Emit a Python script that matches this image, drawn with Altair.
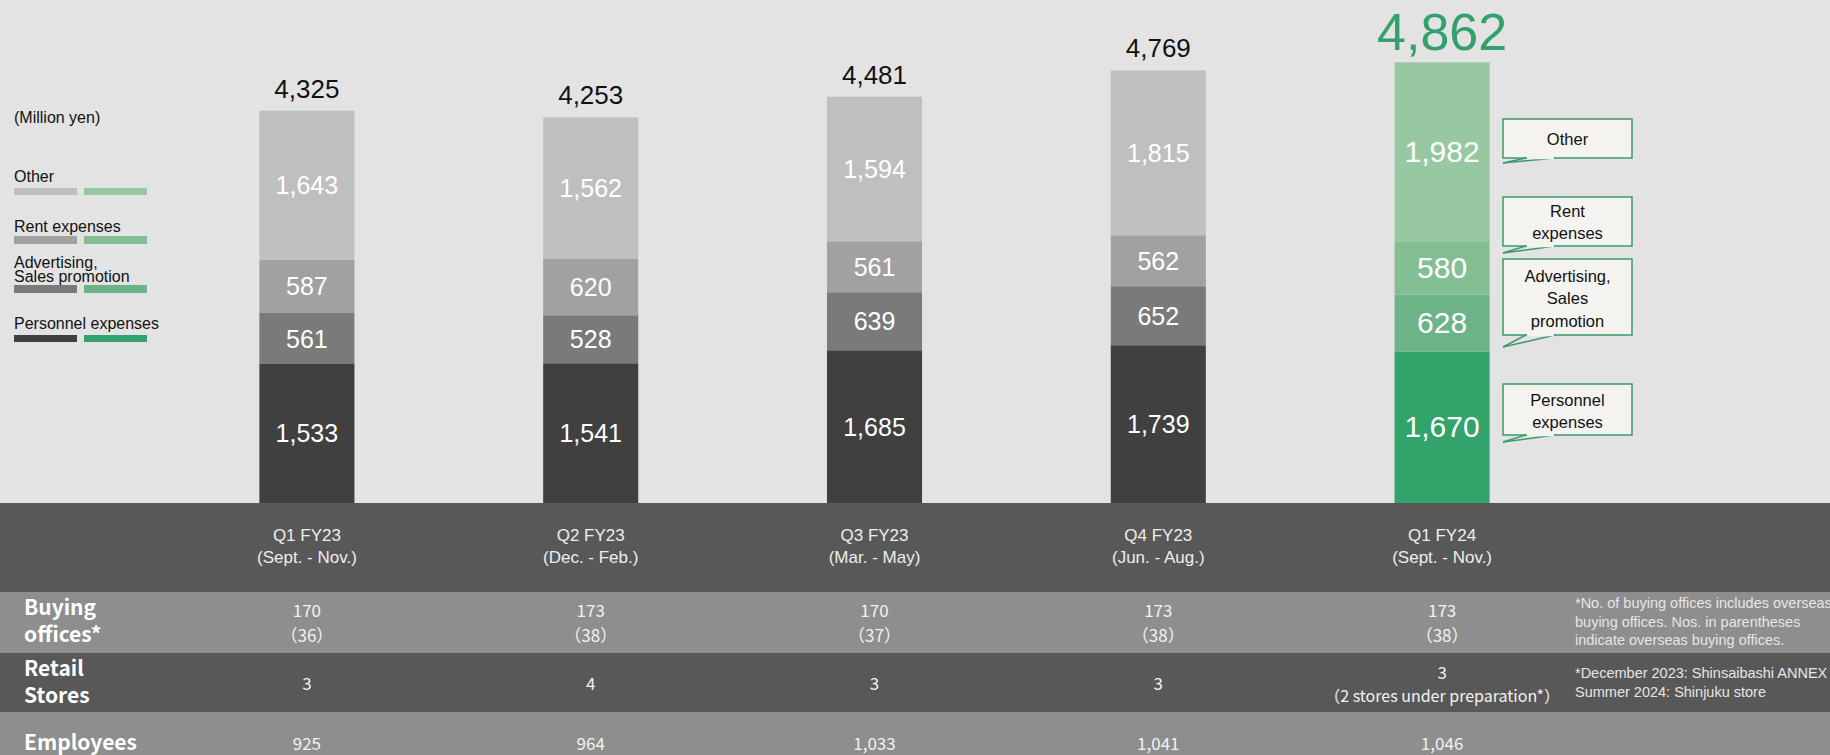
import altair as alt
import pandas as pd

# ---------------- data ----------------
quarters = ["Q1 FY23", "Q2 FY23", "Q3 FY23", "Q4 FY23", "Q1 FY24"]
periods = ["(Sept. - Nov.)", "(Dec. - Feb.)", "(Mar. - May)", "(Jun. - Aug.)", "(Sept. - Nov.)"]
categories = ["Personnel expenses", "Advertising, Sales promotion", "Rent expenses", "Other"]
personnel = [1533, 1541, 1685, 1739, 1670]
advertising = [561, 528, 639, 652, 628]
rent = [587, 620, 561, 562, 580]
other = [1643, 1562, 1594, 1815, 1982]
totals = [4325, 4253, 4481, 4769, 4862]

buying_offices = ["170", "173", "170", "173", "173"]
overseas_offices = ["（36）", "（38）", "（37）", "（38）", "（38）"]
retail_stores = ["3", "4", "3", "3", "3"]
retail_note = "（2 stores under preparation*）"
employees = ["925", "964", "1,033", "1,041", "1,046"]

gray_colors = ["#404040", "#7a7a7a", "#a0a1a0", "#bfbfbf"]
green_colors = ["#31a36b", "#6cb487", "#84bf94", "#98c8a2"]

legend_labels = [["(Million yen)"], ["Other"], ["Rent expenses"], ["Advertising,", "Sales promotion"], ["Personnel expenses"]]
callout_labels = [["Other"], ["Rent", "expenses"], ["Advertising,", "Sales", "promotion"], ["Personnel", "expenses"]]
notes_offices = ["*No. of buying offices includes overseas", "buying offices. Nos. in parentheses", "indicate overseas buying offices."]
notes_stores = ["*December 2023: Shinsaibashi ANNEX", " Summer 2024: Shinjuku store"]
row_labels = [["Buying", "offices*"], ["Retail", "Stores"], ["Employees"]]

# ---------------- tables ----------------
series = [personnel, advertising, rent, other]
rows = []
for qi, q in enumerate(quarters):
    base = 0
    green = qi == len(quarters) - 1
    for ci, cat in enumerate(categories):
        v = series[ci][qi]
        rows.append(dict(
            quarter=q, category=cat, value=v, y0=base, y1=base + v, mid=base + v / 2,
            key=("B " if green else "A ") + cat, label=f"{v:,}", fs=30 if green else 25,
        ))
        base += v
bars = pd.DataFrame(rows)
keys = ["A " + c for c in categories] + ["B " + c for c in categories]
key_colors = gray_colors + green_colors

tot = pd.DataFrame(dict(quarter=quarters, total=totals, label=[f"{t:,}" for t in totals]))

xscale = alt.Scale(domain=quarters, range=[165, 1584], paddingInner=0.665, paddingOuter=0.3325)
yscale = alt.Scale(domain=[0, 5546], range=[503, 0], nice=False, zero=True)
X = alt.X("quarter:N", scale=xscale, axis=None)

BG = "#e3e3e3"
DARK_ROW = "#585858"
LIGHT_ROW = "#8e8e8e"
GREEN_LINE = "#3a9a6a"
BOX_FILL = "#f5f3f0"
ARIAL = "Liberation Sans, Arial, sans-serif"
NARROW = "Liberation Sans Narrow, Arial Narrow, Liberation Sans, sans-serif"
JP = "Noto Sans CJK JP, Noto Sans, sans-serif"

one = pd.DataFrame({"a": [0]})
layers = []


def rect(x1, x2, y1, y2, fill, stroke=None, sw=0):
    kw = dict(fill=fill)
    if stroke:
        kw.update(stroke=stroke, strokeWidth=sw)
    return alt.Chart(one).mark_rect(**kw).encode(
        x=alt.value(x1), x2=alt.value(x2), y=alt.value(y1), y2=alt.value(y2))


def rule(x1, y1, x2, y2, color, sw=1.5):
    return alt.Chart(one).mark_rule(color=color, strokeWidth=sw).encode(
        x=alt.value(x1), x2=alt.value(x2), y=alt.value(y1), y2=alt.value(y2))


def label(text, x, y, size, color, font=ARIAL, align="left", weight="normal"):
    return alt.Chart(one).mark_text(
        text=text, fontSize=size, color=color, font=font, align=align,
        baseline="alphabetic", fontWeight=weight,
    ).encode(x=alt.value(x), y=alt.value(y))


def col_text(values, y, size, color, font=JP, subset=None):
    qs = quarters if subset is None else [quarters[i] for i in subset]
    vs = values if subset is None else [values[i] for i in subset]
    df = pd.DataFrame(dict(quarter=qs, text=vs))
    return alt.Chart(df).mark_text(
        fontSize=size, color=color, font=font, align="center", baseline="alphabetic",
    ).encode(x=X, y=alt.value(y), text="text:N")


# table bands
layers += [
    rect(0, 1830, 503, 592, DARK_ROW),
    rect(0, 1830, 592, 653, LIGHT_ROW),
    rect(0, 1830, 653, 712, DARK_ROW),
    rect(0, 1830, 712, 755, LIGHT_ROW),
]

# bars
layers.append(
    alt.Chart(bars).mark_bar(stroke=None).encode(
        x=X,
        y=alt.Y("y0:Q", scale=yscale, axis=None),
        y2="y1:Q",
        color=alt.Color("key:N", scale=alt.Scale(domain=keys, range=key_colors), legend=None),
    )
)
# segment labels
layers.append(
    alt.Chart(bars).mark_text(color="white", font=ARIAL, baseline="middle", dy=1).encode(
        x=X, y=alt.Y("mid:Q", scale=yscale, axis=None), text="label:N",
        size=alt.Size("fs:Q", scale=None, legend=None),
    )
)
# totals
layers.append(
    alt.Chart(tot.iloc[:4]).mark_text(color="#111111", font=ARIAL, fontSize=26, baseline="alphabetic", dy=-13).encode(
        x=X, y=alt.Y("total:Q", scale=yscale, axis=None), text="label:N")
)
layers.append(
    alt.Chart(tot.iloc[4:]).mark_text(color="#34a06c", font=ARIAL, fontSize=52, baseline="alphabetic", dy=-12).encode(
        x=X, y=alt.Y("total:Q", scale=yscale, axis=None), text="label:N")
)

# legend (custom)
legend_y = [123, 182, 232, [268, 282], 329]
for lab, yy in zip(legend_labels, legend_y):
    if isinstance(yy, list):
        for t, y in zip(lab, yy):
            layers.append(label(t, 14, y, 16, "#111111"))
    else:
        layers.append(label(lab[0], 14, yy, 16, "#111111"))
swatch_y = [(188, 195), (236, 244), (285, 293), (335, 342)]  # Other, Rent, Adv, Personnel
for (y1, y2), gc, grc in zip(swatch_y, gray_colors[::-1], green_colors[::-1]):
    layers.append(rect(14, 77, y1, y2, gc))
    layers.append(rect(84, 147, y1, y2, grc))

# callouts
boxes = [(119, 158, 163), (197, 246, 253), (259, 335, 347), (384, 435, 442)]
text_y = [[145], [217, 239], [282, 304, 327], [406, 428]]
for (by1, by2, tip), labs, tys in zip(boxes, callout_labels, text_y):
    layers.append(rect(1503, 1632, by1, by2, BOX_FILL, GREEN_LINE, 1.5))
    layers.append(rule(1526, by2, 1503, tip, GREEN_LINE))
    layers.append(rule(1503, tip, 1555, by2, GREEN_LINE))
    layers.append(rule(1527, by2, 1554, by2, BOX_FILL, 2.5))
    for t, y in zip(labs, tys):
        layers.append(label(t, 1567.5, y, 16.5, "#111111", align="center"))

# table header
layers.append(col_text(quarters, 541, 17, "#eeeeee", font=NARROW))
layers.append(col_text(periods, 563, 17, "#eeeeee", font=NARROW))
# rows
layers.append(col_text(buying_offices, 617, 17, "#f2f2f2"))
layers.append(col_text(overseas_offices, 642, 17, "#f2f2f2"))
layers.append(col_text(retail_stores, 690, 17, "#f2f2f2", subset=[0, 1, 2, 3]))
layers.append(col_text(retail_stores, 679, 17, "#f2f2f2", subset=[4]))
layers.append(col_text([retail_note] * 5, 702, 16, "#f2f2f2", subset=[4]))
layers.append(col_text(employees, 750, 17, "#f2f2f2"))

# row labels
for t, y in zip(["Buying", "offices*", "Retail", "Stores", "Employees"], [615, 642, 676, 703, 750]):
    layers.append(label(t, 24, y, 21, "#ffffff", font=JP, weight="bold"))

# notes
for t, y in zip(notes_offices, [608, 627, 645]):
    layers.append(label(t, 1575, y, 14.5, "#e6e6e6", font=NARROW))
for t, y in zip(notes_stores, [678, 697]):
    layers.append(label(t, 1575, y, 14.5, "#e6e6e6", font=NARROW))

chart = alt.layer(*layers).properties(
    width=1830, height=755, padding=0,
    autosize=alt.AutoSizeParams(type="none"),
    background=BG,
).configure_view(stroke=None)

chart.save("out.html", embed_options={"renderer": "svg", "actions": False})
